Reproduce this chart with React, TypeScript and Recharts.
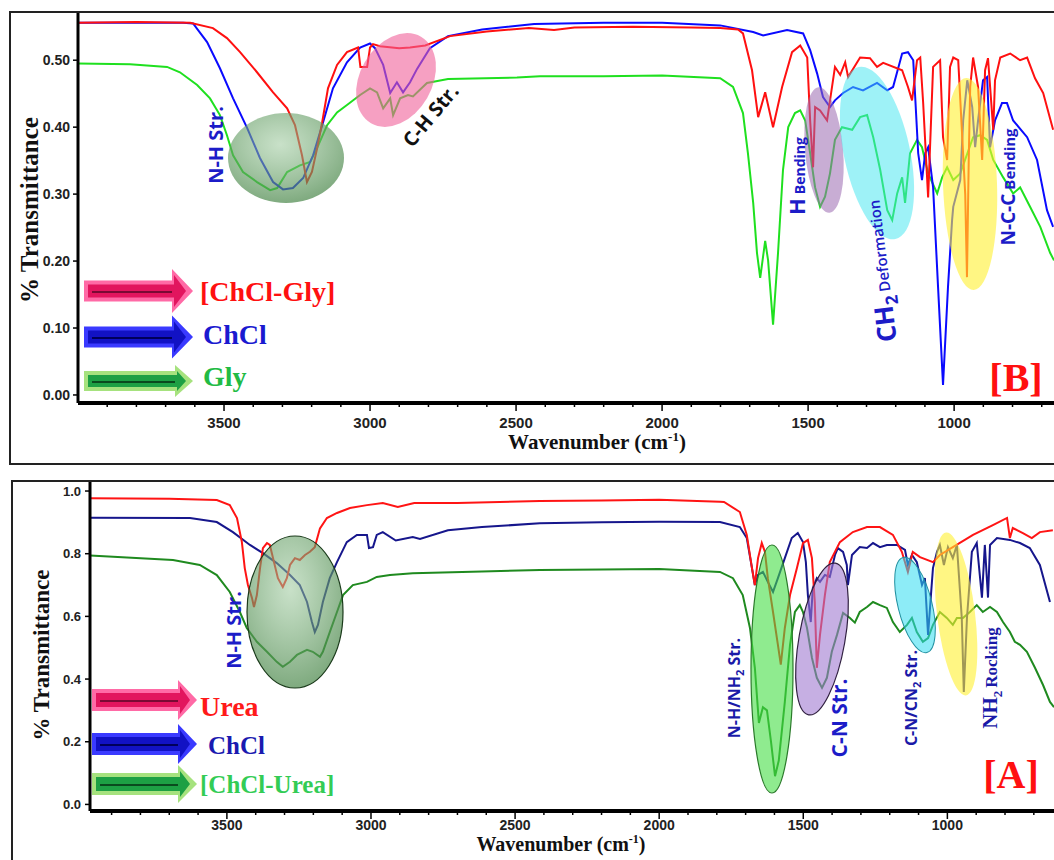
import React from "react"
import { LineChart, Line, XAxis, YAxis } from "recharts"

// ---------- panel [B] : ChCl / Gly / [ChCl-Gly] ----------
// [wavenumber cm-1, transmittance]
const chclGlyB: [number, number][] = [
  [4000, 0.556], [3800, 0.557], [3616, 0.556], [3538, 0.548], [3490, 0.533], [3445, 0.512], [3387, 0.482],
  [3332, 0.452], [3284, 0.428], [3257, 0.403], [3233, 0.358], [3216, 0.318], [3199, 0.333], [3181, 0.369],
  [3164, 0.407], [3144, 0.458], [3113, 0.493], [3079, 0.512], [3041, 0.519], [3033, 0.49], [3010, 0.49],
  [3000, 0.519], [2990, 0.524], [2966, 0.521], [2900, 0.518], [2863, 0.519], [2811, 0.522], [2726, 0.536],
  [2600, 0.543], [2456, 0.548], [2370, 0.545], [2300, 0.549], [2100, 0.55], [1900, 0.549], [1801, 0.548],
  [1740, 0.546], [1723, 0.54], [1692, 0.485], [1671, 0.415], [1647, 0.452], [1620, 0.4], [1589, 0.46],
  [1555, 0.512], [1527, 0.522], [1503, 0.504], [1493, 0.41], [1483, 0.34], [1476, 0.43], [1459, 0.425],
  [1435, 0.41], [1408, 0.49], [1390, 0.478], [1373, 0.497], [1363, 0.475], [1322, 0.504], [1288, 0.503],
  [1264, 0.49], [1243, 0.496], [1178, 0.485], [1158, 0.46], [1144, 0.44], [1127, 0.5], [1116, 0.504],
  [1106, 0.436], [1089, 0.295], [1079, 0.41], [1072, 0.49], [1048, 0.5], [1038, 0.385], [1024, 0.351],
  [1014, 0.49], [1003, 0.504], [986, 0.5], [962, 0.3], [956, 0.176], [950, 0.35], [945, 0.46], [935, 0.504],
  [918, 0.46], [904, 0.351], [894, 0.485], [884, 0.503], [866, 0.396], [860, 0.47], [842, 0.504],
  [808, 0.51], [774, 0.5], [750, 0.504], [723, 0.473], [695, 0.451], [661, 0.396],
]
const chclB: [number, number][] = [
  [4000, 0.556], [3640, 0.556], [3606, 0.555], [3558, 0.527], [3514, 0.488], [3469, 0.443], [3421, 0.399],
  [3377, 0.354], [3332, 0.318], [3298, 0.307], [3264, 0.309], [3229, 0.324], [3195, 0.358], [3161, 0.407],
  [3127, 0.458], [3079, 0.497], [3034, 0.519], [3000, 0.525], [2983, 0.518], [2955, 0.493], [2931, 0.451],
  [2908, 0.467], [2887, 0.452], [2863, 0.467], [2839, 0.487], [2795, 0.518], [2733, 0.536], [2616, 0.546],
  [2438, 0.554], [2200, 0.556], [2000, 0.556], [1801, 0.552], [1688, 0.542], [1654, 0.537], [1572, 0.545],
  [1517, 0.54], [1493, 0.515], [1469, 0.48], [1449, 0.445], [1425, 0.43], [1408, 0.44], [1380, 0.451],
  [1346, 0.46], [1312, 0.455], [1264, 0.466], [1229, 0.455], [1209, 0.46], [1178, 0.51], [1158, 0.512],
  [1140, 0.5], [1123, 0.361], [1110, 0.321], [1099, 0.361], [1089, 0.37], [1072, 0.31], [1055, 0.161],
  [1038, 0.015], [1021, 0.161], [1007, 0.261], [1003, 0.281], [979, 0.321], [969, 0.41], [955, 0.47],
  [938, 0.43], [928, 0.37], [918, 0.41], [901, 0.47], [887, 0.475], [877, 0.37], [860, 0.41], [836, 0.436],
  [819, 0.436], [798, 0.41], [750, 0.385], [716, 0.351], [682, 0.276], [661, 0.251],
]
const glyB: [number, number][] = [
  [4000, 0.495], [3822, 0.494], [3695, 0.49], [3651, 0.482], [3592, 0.463], [3548, 0.443], [3514, 0.418],
  [3490, 0.388], [3469, 0.358], [3435, 0.333], [3387, 0.318], [3342, 0.306], [3318, 0.309], [3284, 0.333],
  [3240, 0.343], [3205, 0.348], [3181, 0.369], [3147, 0.403], [3113, 0.422], [3079, 0.433], [3034, 0.448],
  [3000, 0.458], [2976, 0.452], [2955, 0.428], [2931, 0.443], [2921, 0.418], [2897, 0.443], [2870, 0.448],
  [2853, 0.446], [2805, 0.466], [2733, 0.472], [2497, 0.474], [2418, 0.476], [2200, 0.476], [2000, 0.477],
  [1801, 0.473], [1757, 0.46], [1723, 0.421], [1706, 0.361], [1688, 0.287], [1675, 0.212], [1664, 0.175],
  [1647, 0.23], [1637, 0.201], [1620, 0.105], [1603, 0.212], [1586, 0.336], [1568, 0.4], [1545, 0.421],
  [1527, 0.425], [1510, 0.41], [1493, 0.361], [1476, 0.31], [1459, 0.281], [1442, 0.296], [1425, 0.331],
  [1408, 0.381], [1384, 0.4], [1349, 0.396], [1322, 0.415], [1298, 0.418], [1277, 0.385], [1253, 0.336],
  [1229, 0.276], [1212, 0.261], [1195, 0.301], [1178, 0.325], [1168, 0.287], [1151, 0.361], [1127, 0.381],
  [1110, 0.37], [1089, 0.331], [1058, 0.301], [1041, 0.325], [1024, 0.34], [1003, 0.321], [979, 0.331],
  [935, 0.385], [911, 0.388], [887, 0.381], [866, 0.351], [832, 0.325], [798, 0.301], [774, 0.31],
  [740, 0.281], [705, 0.251], [671, 0.212], [658, 0.201],
]

// ---------- panel [A] : Urea / ChCl / [ChCl-Urea] ----------
const ureaA: [number, number][] = [
  [3975, 0.977], [3700, 0.975], [3535, 0.971], [3490, 0.955], [3465, 0.914], [3448, 0.837], [3438, 0.754],
  [3427, 0.7], [3413, 0.659], [3406, 0.63], [3396, 0.668], [3385, 0.754], [3375, 0.818], [3361, 0.834],
  [3351, 0.828], [3340, 0.786], [3323, 0.722], [3306, 0.694], [3292, 0.722], [3281, 0.764], [3264, 0.786],
  [3247, 0.78], [3229, 0.796], [3212, 0.806], [3195, 0.821], [3177, 0.881], [3153, 0.914], [3118, 0.93],
  [3073, 0.946], [3014, 0.955], [2959, 0.962], [2907, 0.949], [2850, 0.962], [2700, 0.962], [2414, 0.968],
  [2200, 0.97], [2000, 0.972], [1789, 0.966], [1775, 0.965], [1720, 0.933], [1696, 0.86], [1678, 0.754],
  [1668, 0.7], [1657, 0.786], [1644, 0.834], [1633, 0.806], [1623, 0.722], [1605, 0.614], [1588, 0.509],
  [1578, 0.446], [1564, 0.563], [1546, 0.668], [1522, 0.754], [1501, 0.834], [1484, 0.844], [1470, 0.786],
  [1460, 0.646], [1453, 0.436], [1442, 0.541], [1425, 0.668], [1408, 0.773], [1373, 0.837], [1328, 0.869],
  [1279, 0.885], [1234, 0.885], [1189, 0.86], [1158, 0.806], [1137, 0.742], [1120, 0.806], [1095, 0.789],
  [1050, 0.773], [1026, 0.796], [981, 0.821], [911, 0.86], [842, 0.891], [793, 0.914], [783, 0.85],
  [773, 0.882], [738, 0.866], [707, 0.85], [679, 0.869], [634, 0.875],
]
const chclA: [number, number][] = [
  [3975, 0.915], [3628, 0.914], [3535, 0.901], [3479, 0.869], [3420, 0.828], [3375, 0.802], [3327, 0.77],
  [3281, 0.732], [3247, 0.7], [3222, 0.646], [3205, 0.582], [3195, 0.55], [3184, 0.573], [3167, 0.646],
  [3143, 0.722], [3118, 0.773], [3084, 0.837], [3049, 0.86], [3014, 0.86], [3007, 0.818], [2993, 0.821],
  [2980, 0.86], [2959, 0.869], [2914, 0.842], [2855, 0.853], [2830, 0.847], [2733, 0.875], [2615, 0.885],
  [2414, 0.897], [2200, 0.9], [2000, 0.902], [1789, 0.901], [1720, 0.885], [1696, 0.85], [1678, 0.754],
  [1668, 0.7], [1657, 0.732], [1640, 0.742], [1623, 0.71], [1605, 0.678], [1588, 0.722], [1564, 0.786],
  [1540, 0.85], [1519, 0.866], [1501, 0.837], [1491, 0.773], [1484, 0.668], [1474, 0.582], [1467, 0.69],
  [1453, 0.722], [1442, 0.71], [1425, 0.732], [1408, 0.726], [1390, 0.796], [1380, 0.818], [1362, 0.806],
  [1349, 0.764], [1345, 0.7], [1331, 0.796], [1304, 0.821], [1279, 0.818], [1258, 0.834], [1234, 0.821],
  [1210, 0.828], [1175, 0.828], [1147, 0.812], [1137, 0.764], [1123, 0.796], [1106, 0.773], [1088, 0.7],
  [1078, 0.722], [1067, 0.541], [1057, 0.668], [1050, 0.754], [1036, 0.806], [1026, 0.828], [1012, 0.764],
  [998, 0.821], [981, 0.786], [967, 0.828], [950, 0.595], [943, 0.359], [932, 0.595], [915, 0.806],
  [898, 0.834], [880, 0.66], [870, 0.828], [859, 0.66], [852, 0.828], [828, 0.85], [783, 0.844],
  [748, 0.834], [714, 0.818], [679, 0.764], [644, 0.646],
]
const chclUreaA: [number, number][] = [
  [3975, 0.794], [3687, 0.78], [3594, 0.764], [3535, 0.732], [3490, 0.678], [3455, 0.614], [3431, 0.563],
  [3396, 0.519], [3361, 0.487], [3327, 0.455], [3306, 0.439], [3281, 0.455], [3257, 0.477], [3222, 0.493],
  [3202, 0.487], [3177, 0.471], [3167, 0.487], [3143, 0.55], [3118, 0.614], [3097, 0.668], [3063, 0.7],
  [3014, 0.71], [2980, 0.726], [2934, 0.732], [2855, 0.738], [2615, 0.743], [2414, 0.748], [2200, 0.75],
  [2000, 0.751], [1789, 0.742], [1744, 0.722], [1710, 0.668], [1685, 0.563], [1668, 0.436], [1654, 0.26],
  [1640, 0.31], [1626, 0.3], [1612, 0.2], [1598, 0.09], [1585, 0.14], [1564, 0.327], [1546, 0.509],
  [1529, 0.614], [1512, 0.636], [1501, 0.614], [1487, 0.563], [1470, 0.468], [1453, 0.404], [1435, 0.372],
  [1418, 0.404], [1401, 0.487], [1383, 0.541], [1362, 0.611], [1338, 0.595], [1321, 0.58], [1304, 0.614],
  [1279, 0.63], [1258, 0.646], [1234, 0.636], [1210, 0.627], [1189, 0.582], [1165, 0.55], [1140, 0.573],
  [1123, 0.595], [1106, 0.55], [1085, 0.519], [1067, 0.531], [1050, 0.573], [1026, 0.614], [1002, 0.595],
  [981, 0.573], [967, 0.595], [946, 0.595], [922, 0.614], [898, 0.636], [877, 0.614], [852, 0.63],
  [828, 0.614], [807, 0.582], [783, 0.55], [766, 0.519], [748, 0.509], [724, 0.487], [696, 0.436],
  [668, 0.381], [644, 0.327], [630, 0.31],
]

const xTicks = [700, 800, 900, 1000, 1100, 1200, 1300, 1400, 1500, 1600, 1700, 1800, 1900, 2000, 2100, 2200,
  2300, 2400, 2500, 2600, 2700, 2800, 2900, 3000, 3100, 3200, 3300, 3400, 3500, 3600, 3700, 3800, 3900]
const yTicksB = [0, 0.1, 0.2, 0.3, 0.4, 0.5]
const yTicksA = [0, 0.2, 0.4, 0.6, 0.8, 1.0]

const SANS = "'Liberation Sans', Arial, sans-serif"
const SERIF = "'Liberation Serif', 'Times New Roman', serif"
const NOTE = "'Open Sans', 'Noto Sans', sans-serif"

const toPts = (arr: [number, number][]) => arr.map(([wn, t]) => ({ wn, t }))

function renderXTick(props: any, fontSize: number, gap: number) {
  const { x, y, payload } = props
  const v = payload.value
  const major = v % 500 === 0
  return (
    <g>
      <line x1={x} x2={x} y1={y} y2={y + (major ? 8 : 4)} stroke="#000" strokeWidth={1.5} />
      {major && (
        <text x={x} y={y + gap} textAnchor="middle" fontSize={fontSize} fontWeight={700} fontFamily={SANS} fill="#222">
          {v}
        </text>
      )}
    </g>
  )
}

function Arrow({ x0, x1, cy, shaft, head, headLen, light, mid, dark }: any) {
  const xb = x1 - headLen
  const outer = `M${x0},${cy - shaft / 2} L${xb},${cy - shaft / 2} L${xb},${cy - head / 2} L${x1},${cy} L${xb},${cy + head / 2} L${xb},${cy + shaft / 2} L${x0},${cy + shaft / 2} Z`
  const s2 = shaft / 2 - 4
  const h2 = head / 2 - 6
  const inner = `M${x0 + 4},${cy - s2} L${xb + 2},${cy - s2} L${xb + 2},${cy - h2} L${x1 - 7},${cy} L${xb + 2},${cy + h2} L${xb + 2},${cy + s2} L${x0 + 4},${cy + s2} Z`
  return (
    <g>
      <path d={outer} fill={light} />
      <path d={inner} fill={mid} />
      <line x1={x0 + 8} x2={xb} y1={cy + 1} y2={cy + 1} stroke={dark} strokeWidth={2} />
    </g>
  )
}

export default function App() {
  return (
    <div style={{ position: "relative", width: 1054, height: 860, overflow: "hidden", background: "#fff" }}>
      <style>{"html,body{margin:0;padding:0;overflow:hidden}"}</style>
      {/* panel [B] */}
      <div style={{ position: "absolute", left: 0, top: 0 }}>
        <LineChart width={1054} height={465} margin={{ top: 12, right: 0, bottom: 22, left: 0 }}>
          <XAxis
            type="number" dataKey="wn" domain={[658, 4000]} reversed allowDataOverflow
            ticks={xTicks} interval={0} tickSize={0} tickMargin={0} height={40}
            tickLine={false} axisLine={{ stroke: "#000", strokeWidth: 4 }}
            tick={(p: any) => renderXTick(p, 15, 25)}
          />
          <YAxis
            type="number" domain={[-0.012, 0.572]} allowDataOverflow ticks={yTicksB} width={78}
            tickFormatter={(v: number) => v.toFixed(2)} tickSize={5} tickMargin={3}
            axisLine={{ stroke: "#000", strokeWidth: 3 }} tickLine={{ stroke: "#000", strokeWidth: 1.5 }}
            tick={{ fill: "#222", fontSize: 14, fontWeight: 700, fontFamily: SANS }}
          />
          <Line data={toPts(glyB)} dataKey="t" stroke="#1fe01f" strokeWidth={2} dot={false} isAnimationActive={false} type="linear" />
          <Line data={toPts(chclB)} dataKey="t" stroke="#0a0aff" strokeWidth={2} dot={false} isAnimationActive={false} type="linear" />
          <Line data={toPts(chclGlyB)} dataKey="t" stroke="#ff1010" strokeWidth={2} dot={false} isAnimationActive={false} type="linear" />
        </LineChart>
      </div>

      {/* panel [A] */}
      <div style={{ position: "absolute", left: 0, top: 470 }}>
        <LineChart width={1054} height={390} margin={{ top: 11, right: 0, bottom: 9, left: 0 }}>
          <XAxis
            type="number" dataKey="wn" domain={[630, 3975]} reversed allowDataOverflow
            ticks={xTicks} interval={0} tickSize={0} tickMargin={0} height={40}
            tickLine={false} axisLine={{ stroke: "#000", strokeWidth: 4 }}
            tick={(p: any) => renderXTick(p, 14, 19)}
          />
          <YAxis
            type="number" domain={[-0.021, 1.032]} allowDataOverflow ticks={yTicksA} width={90}
            tickFormatter={(v: number) => v.toFixed(1)} tickSize={5} tickMargin={4}
            axisLine={{ stroke: "#000", strokeWidth: 3 }} tickLine={{ stroke: "#000", strokeWidth: 1.5 }}
            tick={{ fill: "#222", fontSize: 13, fontWeight: 700, fontFamily: SANS }}
          />
          <Line data={toPts(chclUreaA)} dataKey="t" stroke="#1f8a1f" strokeWidth={2} dot={false} isAnimationActive={false} type="linear" />
          <Line data={toPts(chclA)} dataKey="t" stroke="#16168c" strokeWidth={2} dot={false} isAnimationActive={false} type="linear" />
          <Line data={toPts(ureaA)} dataKey="t" stroke="#ff1414" strokeWidth={2} dot={false} isAnimationActive={false} type="linear" />
        </LineChart>
      </div>

      {/* annotations */}
      <svg width={1054} height={860} style={{ position: "absolute", left: 0, top: 0, pointerEvents: "none" }}>
        <defs>
          <radialGradient id="gDark" cx="45%" cy="35%" r="70%">
            <stop offset="0%" stopColor="#9cc89c" stopOpacity={0.55} />
            <stop offset="100%" stopColor="#3f7f3f" stopOpacity={0.7} />
          </radialGradient>
        </defs>
        {/* frames */}
        <rect x={10} y={12} width={1060} height={452} fill="none" stroke="#222" strokeWidth={2} />
        <rect x={12} y={481} width={1060} height={400} fill="none" stroke="#222" strokeWidth={2} />

        {/* panel B ellipses */}
        <ellipse cx={286} cy={158} rx={58} ry={45} fill="url(#gDark)" />
        <ellipse cx={396} cy={80} rx={36} ry={50} fill="#f0609a" fillOpacity={0.6} transform="rotate(30 396 80)" />
        <ellipse cx={824} cy={150} rx={19} ry={63} fill="#9a6ab0" fillOpacity={0.55} transform="rotate(-5 824 150)" />
        <ellipse cx={877} cy={153} rx={33} ry={88} fill="#3ee6f0" fillOpacity={0.5} transform="rotate(-12 877 153)" />
        <ellipse cx={970} cy={184} rx={27} ry={106} fill="#fff030" fillOpacity={0.6} transform="rotate(-2 970 184)" />

        {/* panel A ellipses */}
        <ellipse cx={295} cy={612} rx={48} ry={76} fill="url(#gDark)" stroke="#1a3a1a" strokeWidth={1.2} />
        <ellipse cx={772} cy={669} rx={21} ry={124} fill="#45dd45" fillOpacity={0.6} stroke="#2a7a2a" strokeWidth={1.2} />
        <ellipse cx={822} cy={639} rx={23} ry={77} fill="#a07ad0" fillOpacity={0.6} stroke="#302040" strokeWidth={1.2} transform="rotate(10 822 639)" />
        <ellipse cx={915} cy={605} rx={17} ry={49} fill="#30dcf0" fillOpacity={0.55} stroke="#2090a0" strokeWidth={1} transform="rotate(-14 915 605)" />
        <ellipse cx={956} cy={614} rx={19} ry={82} fill="#fff030" fillOpacity={0.6} transform="rotate(-7 956 614)" />

        {/* axis titles */}
        <text transform="translate(38,210) rotate(-90)" textAnchor="middle" fontFamily={SERIF} fontWeight={700} fontSize={25} fill="#111">% Transmittance</text>
        <text transform="translate(49,655) rotate(-90)" textAnchor="middle" fontFamily={SERIF} fontWeight={700} fontSize={23} fill="#111">% Transmittance</text>
        <text x={597} y={449} textAnchor="middle" fontFamily={SERIF} fontWeight={700} fontSize={21} fill="#111">
          Wavenumber (cm<tspan dy={-8} fontSize={13}>-1</tspan><tspan dy={8}>)</tspan>
        </text>
        <text x={561} y={851} textAnchor="middle" fontFamily={SERIF} fontWeight={700} fontSize={20} fill="#111">
          Wavenumber (cm<tspan dy={-8} fontSize={12}>-1</tspan><tspan dy={8}>)</tspan>
        </text>

        {/* panel B notes */}
        <text transform="translate(223,145) rotate(-90)" textAnchor="middle" fontFamily={NOTE} fontWeight={700} fontSize={20} fill="#1c1cc8">N-H Str.</text>
        <text transform="translate(436,120) rotate(-50)" textAnchor="middle" fontFamily={NOTE} fontWeight={700} fontSize={20} fill="#111">C-H Str.</text>
        <text transform="translate(805,176) rotate(-90)" textAnchor="middle" fontFamily={NOTE} fontWeight={700} fill="#1c1cc8">
          <tspan fontSize={22}>H</tspan><tspan fontSize={14} dx={4}>Bending</tspan>
        </text>
        <text transform="translate(888,270) rotate(-97)" textAnchor="middle" fontFamily={NOTE} fill="#1c1cc8">
          <tspan fontSize={26} fontWeight={700}>CH</tspan><tspan fontSize={17} fontWeight={700} dy={6}>2</tspan>
          <tspan fontSize={15} fontWeight={600} dy={-6} dx={4}>Deformation</tspan>
        </text>
        <text transform="translate(1015,187) rotate(-90)" textAnchor="middle" fontFamily={NOTE} fontWeight={700} fill="#1c1cc8">
          <tspan fontSize={19}>N-C-C</tspan><tspan fontSize={15} dx={4}>Bending</tspan>
        </text>
        <text x={1016} y={391} textAnchor="middle" fontFamily={SERIF} fontWeight={700} fontSize={40} fill="#ff1010">[B]</text>

        {/* panel A notes */}
        <text transform="translate(241,630) rotate(-90)" textAnchor="middle" fontFamily={NOTE} fontWeight={700} fontSize={20} fill="#1c1cc8">N-H Str.</text>
        <text transform="translate(740,688) rotate(-90)" textAnchor="middle" fontFamily={NOTE} fontWeight={700} fill="#1a1aa8">
          <tspan fontSize={16}>N-H/NH</tspan><tspan fontSize={11} dy={4}>2</tspan><tspan fontSize={16} dy={-4}> Str.</tspan>
        </text>
        <text transform="translate(847,718) rotate(-90)" textAnchor="middle" fontFamily={NOTE} fontWeight={700} fontSize={21} fill="#1c1cc8">C-N Str.</text>
        <text transform="translate(917,698) rotate(-90)" textAnchor="middle" fontFamily={NOTE} fontWeight={700} fill="#1a1aa8">
          <tspan fontSize={16}>C-N/CN</tspan><tspan fontSize={11} dy={4}>2</tspan><tspan fontSize={16} dy={-4}> Str.</tspan>
        </text>
        <text transform="translate(997,678) rotate(-90)" textAnchor="middle" fontFamily={SERIF} fontWeight={700} fill="#1a1aa8">
          <tspan fontSize={21}>NH</tspan><tspan fontSize={13} dy={5}>2</tspan><tspan fontSize={17} dy={-5} dx={3}>Rocking</tspan>
        </text>
        <text x={1011} y={788} textAnchor="middle" fontFamily={SERIF} fontWeight={700} fontSize={40} fill="#ff1010">[A]</text>

        {/* legend B */}
        <Arrow x0={84} x1={193} cy={291} shaft={21} head={44} headLen={21} light="#ff6aa6" mid="#e2155e" dark="#7a0a34" />
        <Arrow x0={84} x1={193} cy={337} shaft={21} head={43} headLen={21} light="#3a3aff" mid="#1212c4" dark="#00005a" />
        <Arrow x0={84} x1={193} cy={381} shaft={20} head={32} headLen={18} light="#a6e27e" mid="#1da044" dark="#0a4a1e" />
        <text x={200} y={301} fontFamily={SERIF} fontWeight={700} fontSize={28} fill="#ff1010">[ChCl-Gly]</text>
        <text x={203} y={344} fontFamily={SERIF} fontWeight={700} fontSize={28} fill="#1a1ad0">ChCl</text>
        <text x={203} y={386} fontFamily={SERIF} fontWeight={700} fontSize={28} fill="#22bb44">Gly</text>

        {/* legend A */}
        <Arrow x0={92} x1={197} cy={700} shaft={22} head={40} headLen={19} light="#ff6aa6" mid="#e2155e" dark="#7a0a34" />
        <Arrow x0={92} x1={197} cy={744} shaft={22} head={40} headLen={19} light="#3a3aff" mid="#1212c4" dark="#00005a" />
        <Arrow x0={92} x1={197} cy={784} shaft={22} head={38} headLen={19} light="#a6e27e" mid="#1da044" dark="#0a4a1e" />
        <text x={200} y={716} fontFamily={SERIF} fontWeight={700} fontSize={28} fill="#ff1a1a">Urea</text>
        <text x={208} y={754} fontFamily={SERIF} fontWeight={700} fontSize={25} fill="#1a1ab0">ChCl</text>
        <text x={200} y={793} fontFamily={SERIF} fontWeight={700} fontSize={25} fill="#33cc55">[ChCl-Urea]</text>
      </svg>
    </div>
  )
}
